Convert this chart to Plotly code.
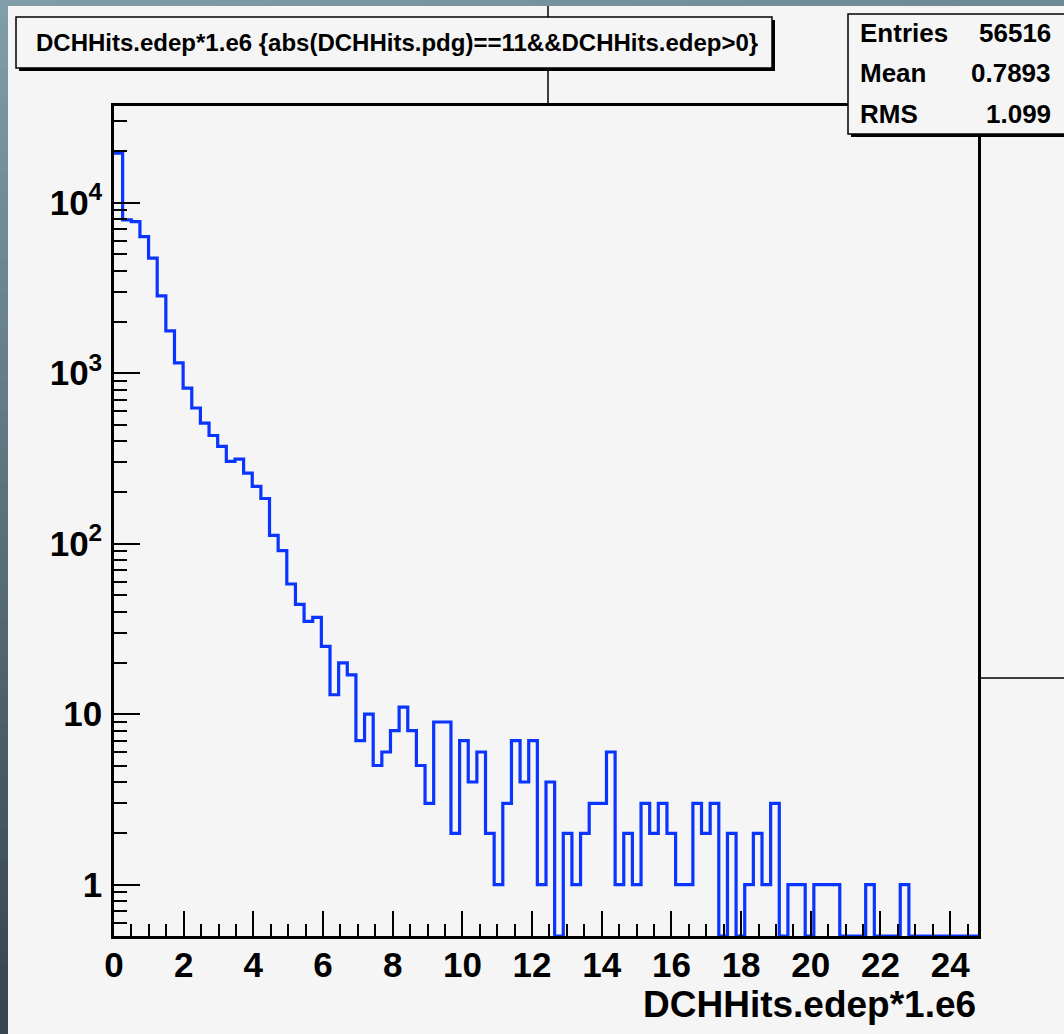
import numpy as np
import plotly.graph_objects as go

# Histogram definition: 100 fixed-width bins
X_MIN, X_MAX, N_BINS = 0.0, 24.8, 100
counts = [19500, 7930, 7750, 6330, 4730, 2840, 1770, 1150, 818, 625,
          510, 431, 372, 304, 313, 259, 217, 184, 112, 91,
          58, 44, 35, 37, 25, 13, 20, 17, 7, 10,
          5, 6, 8, 11, 8, 5, 3, 9, 9, 2,
          7, 4, 6, 2, 1, 3, 7, 4, 7, 1,
          4, 0, 2, 1, 2, 3, 3, 6, 1, 2,
          1, 3, 2, 3, 2, 1, 1, 3, 2, 3,
          0, 2, 0, 1, 2, 1, 3, 0, 1, 1,
          0, 1, 1, 1, 0, 0, 0, 1, 0, 0,
          0, 1, 0, 0, 0, 0, 0, 0, 0, 0]

Y_MIN, Y_MAX = 0.5, 36900
x_tick_vals = list(range(0, 25, 2))
y_tick_vals = [1, 10, 100, 1000, 10000]
y_tick_text = ["1", "10", "10<sup>2</sup>", "10<sup>3</sup>", "10<sup>4</sup>"]

title_text = "DCHHits.edep*1.e6 {abs(DCHHits.pdg)==11&&DCHHits.edep>0}"
x_title = "DCHHits.edep*1.e6"
stat_names = ["Entries", "Mean", "RMS"]
stat_values = ["56516", "0.7893", "1.099"]

# page geometry (pixels) of the frame
W, H = 1064, 1034
FL, FR, FT, FB = 114, 978, 106, 936
BG = "#f5f5f5"
LINE_BLUE = "#0a35ff"
FONT = "Liberation Sans"


def px(x):
    return (x - FL) / (FR - FL)


def py(y):
    return (FB - y) / (FB - FT)


# step outline: empty bins fall to the bottom of the frame
edges = np.linspace(X_MIN, X_MAX, N_BINS + 1)
vals = np.array(counts, dtype=float)
vals_plot = np.where(vals > 0, vals, Y_MIN)
xs = np.concatenate([edges[:-1], [edges[-1]]])
ys = np.concatenate([vals_plot, [Y_MIN]])

fig = go.Figure()
fig.add_trace(go.Scatter(
    x=xs, y=ys, mode="lines",
    line=dict(shape="hv", color=LINE_BLUE, width=3.2),
    hoverinfo="skip", showlegend=False, cliponaxis=True,
))

shapes = []

# dark gradient strips along the left and top page edges
n_seg = 60
c_top = np.array([0x80, 0x9e, 0xaa])
c_bot = np.array([0x36, 0x45, 0x4e])
for i in range(n_seg):
    t = i / (n_seg - 1)
    c = (c_top * (1 - t) + c_bot * t).astype(int)
    y0 = i * H / n_seg
    y1 = (i + 1) * H / n_seg + 1.5
    shapes.append(dict(type="rect", xref="paper", yref="paper",
                       x0=px(0), x1=px(8), y0=py(y1), y1=py(y0),
                       fillcolor="rgb(%d,%d,%d)" % tuple(c), line=dict(width=0),
                       layer="below"))
c_left = np.array([0x80, 0x9e, 0xaa])
c_right = np.array([0x6c, 0x8a, 0x96])
for i in range(n_seg):
    t = i / (n_seg - 1)
    c = (c_left * (1 - t) + c_right * t).astype(int)
    x0 = i * W / n_seg
    x1 = (i + 1) * W / n_seg + 1.5
    shapes.append(dict(type="rect", xref="paper", yref="paper",
                       x0=px(max(x0, 8)), x1=px(x1), y0=py(6), y1=py(0),
                       fillcolor="rgb(%d,%d,%d)" % tuple(c), line=dict(width=0),
                       layer="below"))

# connector lines of the pad layout
shapes.append(dict(type="line", xref="paper", yref="paper",
                   x0=px(548), x1=px(548), y0=py(106), y1=py(6),
                   line=dict(color="black", width=1.5)))
shapes.append(dict(type="line", xref="paper", yref="paper",
                   x0=px(978), x1=px(1064), y0=py(678), y1=py(678),
                   line=dict(color="black", width=1.5)))

# title box with shadow
shapes.append(dict(type="rect", xref="paper", yref="paper",
                   x0=px(19), x1=px(775), y0=py(71), y1=py(20),
                   fillcolor="black", line=dict(width=0)))
shapes.append(dict(type="rect", xref="paper", yref="paper",
                   x0=px(16), x1=px(772), y0=py(68), y1=py(17),
                   fillcolor=BG, line=dict(color="black", width=1.5)))

# statistics box with shadow
shapes.append(dict(type="rect", xref="paper", yref="paper",
                   x0=px(851), x1=px(1070), y0=py(137), y1=py(17),
                   fillcolor="black", line=dict(width=0)))
shapes.append(dict(type="rect", xref="paper", yref="paper",
                   x0=px(848), x1=px(1070), y0=py(134), y1=py(14),
                   fillcolor=BG, line=dict(color="black", width=1.5)))

annotations = [
    dict(text=title_text, xref="paper", yref="paper", x=px(397), y=py(42),
         xanchor="center", yanchor="middle", showarrow=False,
         font=dict(family=FONT, size=24, color="black", weight="bold")),
    dict(text=x_title, xref="paper", yref="paper", x=px(978), y=py(1004),
         xanchor="right", yanchor="middle", showarrow=False,
         font=dict(family=FONT, size=37, color="black", weight="bold")),
]
for i, (name, val) in enumerate(zip(stat_names, stat_values)):
    yc = 33 + i * 40.5
    annotations.append(dict(text=name, xref="paper", yref="paper", x=px(858), y=py(yc),
                            xanchor="left", yanchor="middle", showarrow=False,
                            font=dict(family=FONT, size=26, color="black", weight="bold")))
    annotations.append(dict(text=val, xref="paper", yref="paper", x=px(1053), y=py(yc),
                            xanchor="right", yanchor="middle", showarrow=False,
                            font=dict(family=FONT, size=26, color="black", weight="bold")))

fig.update_layout(
    width=W, height=H,
    margin=dict(l=FL, r=W - FR, t=FT, b=H - FB, pad=0),
    paper_bgcolor=BG, plot_bgcolor=BG,
    shapes=shapes, annotations=annotations,
    showlegend=False,
)
fig.update_xaxes(
    range=[X_MIN, X_MAX], showgrid=False, zeroline=False,
    showline=True, linecolor="black", linewidth=2.5, mirror=True,
    tickmode="array", tickvals=x_tick_vals,
    ticks="inside", ticklen=25, tickwidth=2, tickcolor="black",
    minor=dict(tickmode="linear", dtick=0.5, tick0=0, ticks="inside", ticklen=12,
               tickwidth=2, tickcolor="black", showgrid=False),
    tickfont=dict(family=FONT, size=35, color="black", weight="bold"),
    ticklabelstandoff=-4,
)
fig.update_yaxes(
    type="log", range=[np.log10(Y_MIN), np.log10(Y_MAX)],
    showgrid=False, zeroline=False,
    showline=True, linecolor="black", linewidth=2.5, mirror=True,
    tickmode="array", tickvals=y_tick_vals, ticktext=y_tick_text,
    ticks="inside", ticklen=26, tickwidth=2, tickcolor="black",
    minor=dict(dtick="D1", ticks="inside", ticklen=13, tickwidth=2,
               tickcolor="black", showgrid=False),
    tickfont=dict(family=FONT, size=35, color="black", weight="bold"),
    ticklabelstandoff=2,
)

fig.write_html("out.html")
